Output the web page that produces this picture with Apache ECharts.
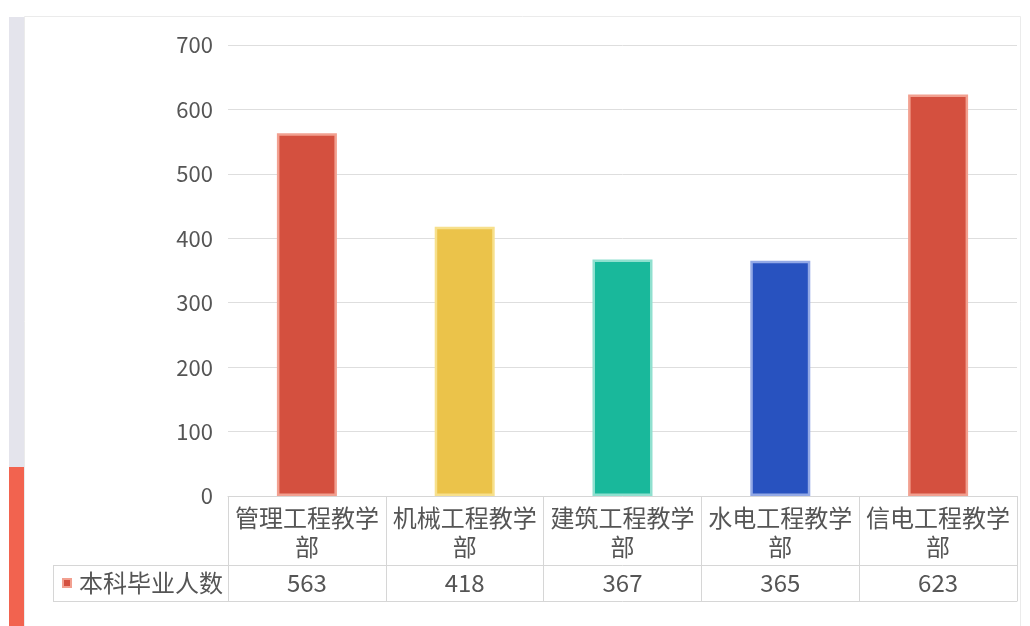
<!DOCTYPE html>
<html><head><meta charset="utf-8">
<script src="https://cdn.jsdelivr.net/npm/echarts@6/dist/echarts.min.js"></script>
<style>html,body{margin:0;padding:0;background:#fff}#c{width:1030px;height:626px}</style>
</head><body><div id="c"></div>
<script>
const categories = ['管理工程教学部','机械工程教学部','建筑工程教学部','水电工程教学部','信电工程教学部'];
const values = [563, 418, 367, 365, 623];
const barColors = ['#d4503f','#ebc34a','#19b89b','#2852bf','#d4503f'];
const barBorders = ['#f2a090','#f7e08c','#8fe0cf','#93a9e6','#f2a090'];
const seriesName = '本科毕业人数';
const yTicks = [0,100,200,300,400,500,600,700];

const FONT = '"Noto Sans CJK SC", "Open Sans", sans-serif';
const chart = echarts.init(document.getElementById('c'));
chart.setOption({
  animation: false,
  grid: {left: 228, right: 13, top: 45, bottom: 130},
  xAxis: [
    {type: 'category', data: categories, position: 'bottom',
     axisLine: {show: true, lineStyle: {color: '#d6d6d6', width: 1}},
     axisTick: {show: true, interval: 0, length: 105, lineStyle: {color: '#d6d6d6'}},
     axisLabel: {interval: 0, color: '#555', fontFamily: FONT, fontSize: 24, lineHeight: 29, margin: 7,
       formatter: v => v.slice(0, 6) + '\n' + v.slice(6)}},
    {type: 'category', data: categories, position: 'bottom', offset: 69,
     axisLine: {show: true, lineStyle: {color: '#d6d6d6', width: 1}},
     axisTick: {show: false},
     axisLabel: {interval: 0, color: '#555', fontFamily: FONT, fontSize: 24, margin: 6,
       formatter: (v, i) => String(values[i])}},
    {type: 'category', data: categories, position: 'bottom', offset: 105,
     axisLine: {show: true, lineStyle: {color: '#d6d6d6', width: 1}},
     axisTick: {show: false}, axisLabel: {show: false}}
  ],
  yAxis: {type: 'value', min: 0, max: 700, interval: 100,
    axisLine: {show: false}, axisTick: {show: false},
    splitLine: {lineStyle: {color: '#dedede'}},
    axisLabel: {color: '#555', fontFamily: FONT, fontSize: 22, margin: 15,
      formatter: v => yTicks.includes(v) ? String(v) : ''}},
  series: [{
    type: 'bar', name: seriesName, xAxisIndex: 0, barWidth: 60,
    data: values.map((v, i) => ({value: v, itemStyle: {color: barColors[i], borderColor: barBorders[i], borderWidth: 2.5}})),
  }],
  graphic: [
    {type: 'rect', shape: {x: 24.5, y: 16.5, width: 996, height: 640}, style: {fill: 'none', stroke: '#ebebeb', lineWidth: 1}, z: -1},
    {type: 'rect', shape: {x: 9, y: 17, width: 15, height: 450}, style: {fill: '#e4e4ec'}},
    {type: 'rect', shape: {x: 9, y: 467, width: 15, height: 160}, style: {fill: '#f2634f'}},
    {type: 'line', shape: {x1: 53, y1: 565.5, x2: 228, y2: 565.5}, style: {stroke: '#d6d6d6', lineWidth: 1}},
    {type: 'line', shape: {x1: 53, y1: 601.5, x2: 228, y2: 601.5}, style: {stroke: '#d6d6d6', lineWidth: 1}},
    {type: 'line', shape: {x1: 53.5, y1: 565, x2: 53.5, y2: 601}, style: {stroke: '#d6d6d6', lineWidth: 1}},
    {type: 'rect', shape: {x: 62, y: 578, width: 10, height: 10}, style: {fill: '#f2a090'}},
    {type: 'rect', shape: {x: 64, y: 580, width: 6, height: 6}, style: {fill: '#d4503f'}},
    {type: 'text', x: 79, y: 583, style: {text: seriesName, fill: '#555', font: '24px ' + FONT, textVerticalAlign: 'middle'}}
  ]
});
</script></body></html>
